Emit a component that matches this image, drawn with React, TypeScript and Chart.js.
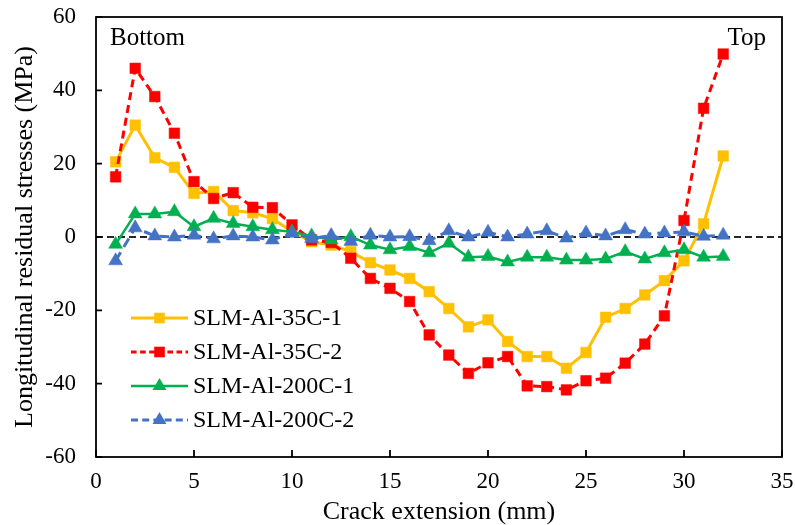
import React, { useEffect, useRef } from "react";
import { Chart, registerables } from "chart.js";

Chart.register(...registerables);

const crackExtension = [1, 2, 3, 4, 5, 6, 7, 8, 9, 10, 11, 12, 13, 14, 15, 16, 17, 18, 19, 20, 21, 22, 23, 24, 25, 26, 27, 28, 29, 30, 31, 32];
const slm35C1 = [20.5, 30.5, 21.6, 19.0, 11.9, 12.4, 7.2, 6.6, 5.0, 1.5, -1.3, -2.2, -4.0, -7.0, -9.0, -11.3, -14.9, -19.5, -24.5, -22.6, -28.5, -32.6, -32.6, -35.8, -31.5, -21.9, -19.5, -15.8, -11.9, -6.5, 3.6, 22.1];
const slm35C2 = [16.4, 46.0, 38.3, 28.3, 15.1, 10.5, 12.1, 8.1, 8.0, 3.3, -0.8, -1.5, -5.8, -11.3, -14.0, -17.6, -26.7, -32.2, -37.2, -34.3, -32.6, -40.6, -40.8, -41.7, -39.2, -38.5, -34.4, -29.2, -21.5, 4.5, 35.1, 49.9];
const slm200C1 = [-2.0, 6.3, 6.3, 6.9, 2.8, 5.1, 3.7, 2.8, 2.0, 1.4, 0.3, -0.8, 0.1, -2.2, -3.5, -2.6, -4.3, -1.7, -5.5, -5.3, -6.8, -5.5, -5.5, -6.3, -6.3, -6.0, -4.0, -6.0, -4.3, -3.5, -5.5, -5.3];
const slm200C2 = [-6.5, 2.5, 0.3, 0.0, 0.5, -0.5, 0.3, 0.0, -0.8, 1.0, -0.4, 0.4, -1.2, 0.5, 0.0, 0.1, -1.0, 1.7, 0.0, 1.3, 0.0, 0.8, 1.7, -0.3, 1.1, 0.3, 2.0, 0.8, 1.1, 1.4, 0.2, 0.5];

const seriesNames = ["SLM-Al-35C-1", "SLM-Al-35C-2", "SLM-Al-200C-1", "SLM-Al-200C-2"];
const xTickStep = 5;
const yTickStep = 20;

const FONT = "'Liberation Serif', 'Times New Roman', serif";

type Style = { color: string; dash: number[]; width: number; shape: "rect" | "triangle"; radius: number };
const styles: Style[] = [
  { color: "#FFC000", dash: [], width: 3, shape: "rect", radius: 7.5 },
  { color: "#FF0000", dash: [8, 5], width: 3, shape: "rect", radius: 7.5 },
  { color: "#00B050", dash: [], width: 2.5, shape: "triangle", radius: 8 },
  { color: "#4472C4", dash: [10, 6], width: 3, shape: "triangle", radius: 8 },
];

function drawMarker(ctx: CanvasRenderingContext2D, s: Style, x: number, y: number) {
  ctx.save();
  ctx.fillStyle = s.color;
  ctx.setLineDash([]);
  ctx.beginPath();
  if (s.shape === "rect") {
    const h = s.radius * Math.SQRT1_2;
    ctx.rect(x - h, y - h, 2 * h, 2 * h);
  } else {
    const r = s.radius;
    ctx.moveTo(x, y - r);
    ctx.lineTo(x + r * Math.sin(Math.PI / 3), y + r / 2);
    ctx.lineTo(x - r * Math.sin(Math.PI / 3), y + r / 2);
    ctx.closePath();
  }
  ctx.fill();
  ctx.restore();
}

const overlayPlugin = {
  id: "overlay",
  beforeDatasetsDraw(chart: any) {
    const { ctx, chartArea, scales } = chart;
    const y0 = scales.y.getPixelForValue(0);
    ctx.save();
    ctx.strokeStyle = "#262626";
    ctx.lineWidth = 1.8;
    ctx.setLineDash([7, 4]);
    ctx.beginPath();
    ctx.moveTo(chartArea.left, y0);
    ctx.lineTo(chartArea.right, y0);
    ctx.stroke();
    ctx.restore();
  },
  afterDraw(chart: any) {
    const { ctx, chartArea, scales } = chart;
    const { left, right, top, bottom } = chartArea;
    ctx.save();
    ctx.strokeStyle = "#000";
    ctx.lineWidth = 1.8;
    ctx.setLineDash([]);
    ctx.strokeRect(left, top, right - left, bottom - top);
    // inside ticks
    ctx.beginPath();
    scales.x.ticks.forEach((t: any) => {
      const px = scales.x.getPixelForValue(t.value);
      ctx.moveTo(px, bottom);
      ctx.lineTo(px, bottom - 7);
    });
    scales.y.ticks.forEach((t: any) => {
      const py = scales.y.getPixelForValue(t.value);
      ctx.moveTo(left, py);
      ctx.lineTo(left + 6, py);
    });
    ctx.stroke();

    // corner labels
    ctx.fillStyle = "#000";
    ctx.font = `25px ${FONT}`;
    ctx.textBaseline = "alphabetic";
    ctx.textAlign = "left";
    ctx.fillText("Bottom", left + 14, top + 28);
    ctx.textAlign = "right";
    ctx.fillText("Top", right - 16, top + 28);

    // legend
    const lx0 = left + 35;
    const lx1 = left + 92;
    const rowStart = top + 301;
    const rowGap = 34;
    ctx.font = `24px ${FONT}`;
    ctx.textAlign = "left";
    ctx.textBaseline = "middle";
    styles.forEach((s, i) => {
      const ry = rowStart + i * rowGap;
      ctx.save();
      ctx.strokeStyle = s.color;
      ctx.lineWidth = s.width;
      ctx.setLineDash(s.dash.map((d) => d * 0.7));
      ctx.beginPath();
      ctx.moveTo(lx0, ry);
      ctx.lineTo(lx1, ry);
      ctx.stroke();
      ctx.restore();
      drawMarker(ctx, s, (lx0 + lx1) / 2, ry);
      ctx.fillStyle = "#000";
      ctx.fillText(seriesNames[i], lx1 + 5, ry + 1);
    });
    ctx.restore();
  },
};

function zeroPaddings(scale: any) {
  scale.paddingTop = 0;
  scale.paddingBottom = 0;
  scale.paddingLeft = 0;
  scale.paddingRight = 0;
}

export default function App() {
  const canvasRef = useRef<HTMLCanvasElement | null>(null);

  useEffect(() => {
    if (!canvasRef.current) return;
    const allSeries = [slm35C1, slm35C2, slm200C1, slm200C2];
    const datasets = allSeries.map((vals, i) => {
      const s = styles[i];
      return {
        label: seriesNames[i],
        data: crackExtension.map((x, j) => ({ x, y: vals[j] })),
        borderColor: s.color,
        backgroundColor: s.color,
        borderWidth: s.width,
        borderDash: s.dash,
        pointStyle: s.shape,
        pointRadius: s.radius,
        pointBorderWidth: 0.5,
        pointBorderColor: s.color,
        pointBackgroundColor: s.color,
        tension: 0,
        order: 3 - i,
      };
    });

    const chart = new Chart(canvasRef.current, {
      type: "line",
      data: { datasets },
      plugins: [overlayPlugin],
      options: {
        animation: false,
        responsive: false,
        devicePixelRatio: 1,
        layout: { padding: { top: 17, right: 13, left: 0, bottom: 0 } },
        plugins: { legend: { display: false }, tooltip: { enabled: false } },
        scales: {
          x: {
            type: "linear",
            min: 0,
            max: 35,
            grid: { display: false },
            border: { display: false },
            ticks: { stepSize: xTickStep, color: "#000", font: { family: FONT, size: 23 }, padding: 3, maxRotation: 0 },
            title: {
              display: true,
              text: "Crack extension (mm)",
              color: "#000",
              font: { family: FONT, size: 26, lineHeight: 1 },
              padding: { top: 0, bottom: 0 },
            },
            afterFit: (scale: any) => {
              scale.height = 68;
              zeroPaddings(scale);
            },
          },
          y: {
            type: "linear",
            min: -60,
            max: 60,
            grid: { display: false },
            border: { display: false },
            ticks: { stepSize: yTickStep, color: "#000", font: { family: FONT, size: 23 }, padding: 12 },
            title: {
              display: true,
              text: "Longitudinal residual stresses (MPa)",
              color: "#000",
              font: { family: FONT, size: 26, lineHeight: 1 },
              padding: { top: 12, bottom: 0 },
            },
            afterFit: (scale: any) => {
              scale.width = 96;
              zeroPaddings(scale);
            },
          },
        },
      },
    } as any);
    return () => chart.destroy();
  }, []);

  return (
    <div style={{ position: "absolute", left: 0, top: 0, width: 795, height: 525, background: "#fff" }}>
      <canvas ref={canvasRef} width={795} height={525} style={{ width: 795, height: 525 }} />
    </div>
  );
}
